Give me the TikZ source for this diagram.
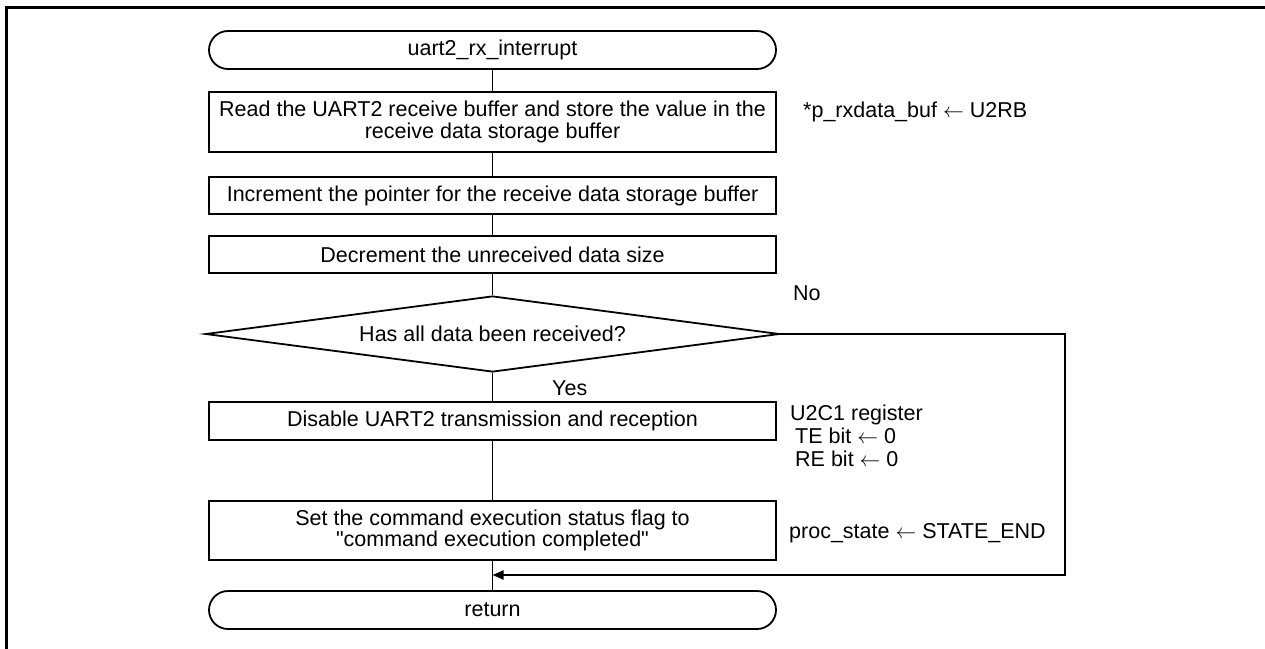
\documentclass[tikz,border=0pt]{standalone}
\usepackage{fontspec}
\setmainfont{Liberation Sans}[Ligatures=TeXOff]
\usetikzlibrary{shapes.geometric,arrows.meta}
\newcommand{\asg}{\ensuremath{\leftarrow}}
\begin{document}
\begin{tikzpicture}[x=1pt,y=-1pt,
  every node/.style={font=\fontsize{21.5}{21.5}\selectfont},
  proc/.style={draw,line width=1.8pt,minimum width=567pt,minimum height=37pt,inner sep=0pt,align=center},
  term/.style={proc,rounded corners=19pt,minimum height=38pt},
  decision/.style={draw,diamond,line width=1.8pt,minimum width=574pt,minimum height=76pt,inner sep=0pt,aspect=7.55},
  note/.style={anchor=west,align=left,inner sep=0pt},
  lbl/.style={anchor=west,inner sep=0pt},
  flow/.style={line width=1.8pt},
  frame/.style={line width=3pt}]
\useasboundingbox (0,0) rectangle (1265,648);
% page frame (top and left edges)
\coordinate (fbl) at (6,660);
\coordinate (ftl) at (6,7);
\coordinate (ftr) at (1275,7);
\draw[frame] (fbl) -- (ftl) -- (ftr);

% flow chart nodes
\node[term] (start) at (492.5,50) {uart2\_rx\_interrupt};
\node[proc,minimum height=60pt] (read) at (492.5,122) {Read the UART2 receive buffer and store the value in the\\receive data storage buffer};
\node[proc] (inc) at (492.5,195.5) {Increment the pointer for the receive data storage buffer};
\node[proc] (dec) at (492.5,254.5) {Decrement the unreceived data size};
\node[decision] (chk) at (492.5,334) {Has all data been received?};
\node[proc,minimum height=38pt] (dis) at (492.5,421) {Disable UART2 transmission and reception};
\node[proc,minimum height=59pt] (set) at (492.5,530.5) {Set the command execution status flag to\\"command execution completed"};
\node[term] (ret) at (492.5,610) {return};

% annotations
\node[note] (n1) at (803,112) {*p\_rxdata\_buf \asg\ U2RB};
\node[note,font=\fontsize{21.5}{23}\selectfont] (n4) at (790,436) {U2C1 register\\\hspace*{5pt}TE bit \asg\ 0\\\hspace*{5pt}RE bit \asg\ 0};
\node[note] (n5) at (789,533) {proc\_state \asg\ STATE\_END};

% branch labels
\node[lbl] (no) at (793,293) {No};
\node[lbl] (yes) at (552,388) {Yes};

% connectors
\draw[flow] (start) -- (read);
\draw[flow] (read) -- (inc);
\draw[flow] (inc) -- (dec);
\draw[flow] (dec) -- (chk);
\draw[flow] (chk) -- (dis);
\draw[flow] (dis) -- (set);
\draw[flow] (set) -- (ret);
\coordinate (cr) at (1065,334);
\coordinate (cb) at (1065,575);
\coordinate (mj) at (492.5,575);
\draw[flow,-{Triangle[length=11pt,width=9pt]}] (chk.east) -- (cr) -- (cb) -- (mj);
\end{tikzpicture}
\end{document}
